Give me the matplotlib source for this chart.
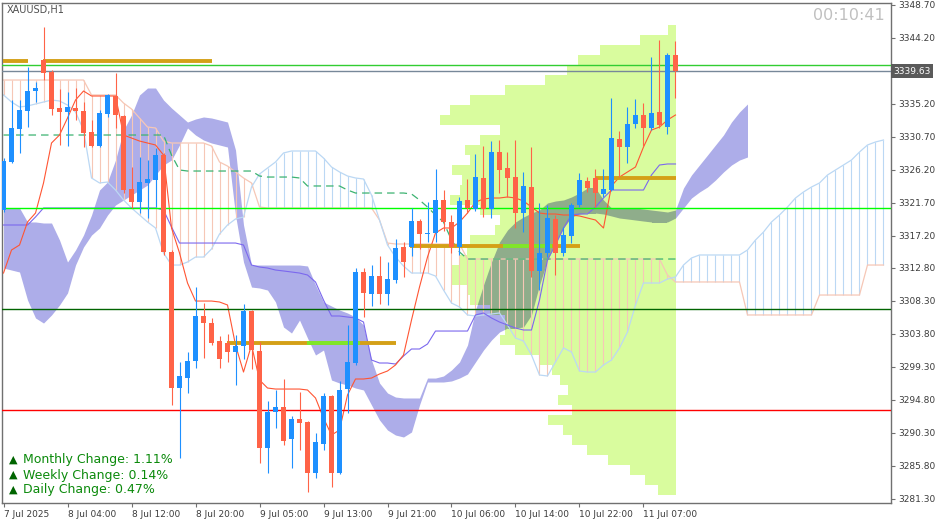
import matplotlib.pyplot as plt
import numpy as np
from matplotlib.path import Path
from matplotlib.patches import PathPatch
import matplotlib.transforms as mtransforms

# ---- candles (XAUUSD H1) ----
bar_open = [3320.70, 3327.25, 3331.75, 3334.20, 3336.93, 3341.16, 3339.52, 3334.61, 3334.07, 3334.61,
            3334.20, 3331.34, 3329.43, 3333.79, 3336.25, 3333.52, 3323.57, 3321.80, 3324.39, 3324.79,
            3328.20, 3314.98, 3296.43, 3297.80, 3300.12, 3306.25, 3305.30, 3302.84, 3302.57, 3301.34,
            3302.16, 3306.93, 3301.48, 3288.25, 3293.16, 3293.84, 3289.48, 3292.21, 3291.80, 3284.84,
            3288.80, 3295.34, 3284.84, 3296.30, 3299.84, 3312.25, 3309.25, 3311.70, 3309.25, 3311.16,
            3315.66, 3315.66, 3319.20, 3317.43, 3317.57, 3322.07, 3319.07, 3315.66, 3322.07, 3320.84,
            3325.07, 3320.84, 3328.61, 3326.43, 3325.20, 3320.30, 3323.84, 3312.39, 3314.84, 3319.48,
            3314.84, 3317.16, 3321.39, 3324.66, 3325.07, 3322.89, 3323.43, 3330.39, 3329.30, 3332.43,
            3333.66, 3331.89, 3334.07, 3332.02, 3341.84]
bar_high = [3327.80, 3335.70, 3335.70, 3340.20, 3338.16, 3345.66, 3339.79, 3337.20, 3336.79, 3337.34,
            3335.43, 3332.98, 3334.34, 3336.50, 3339.39, 3333.66, 3326.57, 3327.93, 3327.52, 3329.16,
            3328.48, 3315.25, 3299.98, 3301.34, 3310.20, 3308.02, 3305.98, 3303.52, 3303.80, 3303.66,
            3307.89, 3307.07, 3302.70, 3294.66, 3296.16, 3297.66, 3292.61, 3295.89, 3291.93, 3290.30,
            3295.75, 3295.48, 3297.39, 3305.02, 3312.80, 3312.80, 3313.20, 3314.43, 3313.61, 3316.75,
            3316.34, 3320.98, 3319.48, 3321.80, 3326.30, 3323.43, 3320.02, 3322.48, 3324.93, 3328.34,
            3329.43, 3330.11, 3330.25, 3328.61, 3330.25, 3325.89, 3329.30, 3321.66, 3321.39, 3320.02,
            3318.39, 3321.66, 3325.75, 3325.20, 3326.30, 3326.30, 3335.98, 3331.48, 3334.75, 3335.84,
            3335.30, 3341.57, 3343.89, 3342.11, 3343.75]
bar_low = [3320.43, 3327.11, 3328.48, 3332.02, 3335.43, 3338.43, 3333.66, 3329.57, 3329.43, 3332.98,
           3329.30, 3329.30, 3329.30, 3333.39, 3331.89, 3323.02, 3320.98, 3320.30, 3319.61, 3321.11,
           3314.57, 3294.11, 3286.89, 3295.75, 3299.16, 3300.52, 3302.30, 3299.16, 3299.98, 3296.84,
           3300.39, 3299.02, 3286.21, 3284.84, 3290.98, 3288.66, 3285.52, 3287.98, 3282.25, 3284.16,
           3287.98, 3282.93, 3284.70, 3293.02, 3299.57, 3306.11, 3307.61, 3307.89, 3307.75, 3310.75,
           3311.57, 3314.43, 3315.39, 3316.34, 3316.34, 3317.84, 3314.84, 3314.57, 3320.30, 3320.57,
           3319.75, 3319.61, 3323.02, 3322.48, 3318.25, 3317.70, 3311.57, 3309.80, 3314.30, 3311.84,
           3314.43, 3316.20, 3321.11, 3323.16, 3321.11, 3322.48, 3323.30, 3325.20, 3327.11, 3331.89,
           3329.43, 3331.61, 3331.89, 3331.07, 3335.98]
bar_close = [3327.39, 3331.89, 3334.34, 3336.93, 3337.34, 3339.39, 3334.48, 3334.07, 3334.75, 3334.20,
             3331.20, 3329.43, 3333.93, 3336.39, 3333.66, 3323.43, 3321.80, 3324.52, 3324.93, 3328.20,
             3314.98, 3296.43, 3298.07, 3300.12, 3306.25, 3305.30, 3302.57, 3300.39, 3301.34, 3302.16,
             3306.93, 3301.61, 3288.25, 3293.16, 3293.84, 3289.21, 3292.21, 3291.66, 3284.84, 3289.07,
             3295.34, 3284.84, 3296.16, 3299.98, 3312.25, 3309.39, 3311.70, 3309.25, 3311.30, 3315.52,
             3313.61, 3319.20, 3317.43, 3317.57, 3322.07, 3319.07, 3315.66, 3321.93, 3320.98, 3325.20,
             3320.84, 3328.61, 3326.16, 3325.07, 3320.30, 3323.98, 3312.39, 3314.84, 3319.61, 3314.84,
             3317.30, 3321.39, 3324.79, 3323.70, 3323.02, 3323.57, 3330.52, 3329.30, 3332.43, 3333.66,
             3331.89, 3333.93, 3332.30, 3341.84, 3339.63]

# ---- ichimoku lines ----
tenkan = [3312.11, 3315.25, 3315.93, 3319.07, 3320.29, 3324.39, 3329.84, 3330.93, 3333.25, 3335.70,
          3336.93, 3336.25, 3336.25, 3336.25, 3336.25, 3330.93, 3330.52, 3330.11, 3329.84, 3329.57,
          3328.20, 3318.25, 3314.84, 3310.75, 3308.29, 3308.29, 3308.29, 3308.16, 3307.75, 3302.29,
          3298.61, 3302.29, 3297.52, 3296.43, 3296.29, 3296.29, 3296.29, 3296.29, 3296.16, 3295.07,
          3292.34, 3290.02, 3290.70, 3295.48, 3297.66, 3297.66, 3297.79, 3298.34, 3298.75, 3299.57,
          3300.93, 3305.70, 3310.20, 3314.29, 3317.57, 3318.25, 3318.25, 3319.07, 3320.29, 3321.79,
          3322.20, 3322.34, 3322.34, 3322.48, 3322.34, 3321.93, 3321.11, 3320.29, 3320.16, 3320.16,
          3320.02, 3320.02, 3319.89, 3319.61, 3319.34, 3318.25, 3323.98, 3325.20, 3325.89, 3326.57,
          3329.29, 3331.61, 3332.02, 3332.98, 3333.66]
kijun = [3318.66, 3318.66, 3318.66, 3318.66, 3319.75, 3320.98, 3320.98, 3320.98, 3320.98, 3320.98,
         3320.98, 3320.98, 3320.98, 3320.98, 3320.98, 3320.98, 3320.98, 3320.98, 3320.98, 3320.98,
         3320.70, 3318.39, 3316.20, 3316.20, 3316.20, 3316.20, 3316.20, 3316.20, 3316.20, 3316.20,
         3315.93, 3313.20, 3312.93, 3312.79, 3312.52, 3312.39, 3312.25, 3312.11, 3311.84, 3310.89,
         3308.43, 3306.25, 3306.25, 3306.11, 3305.98, 3305.43, 3300.25, 3299.84, 3299.84, 3299.70,
         3300.79, 3301.75, 3301.75, 3302.43, 3304.20, 3304.20, 3304.20, 3304.20, 3304.20, 3306.39,
         3306.66, 3305.98, 3305.43, 3305.02, 3304.61, 3304.34, 3304.34, 3308.43, 3313.89, 3315.93,
         3318.25, 3320.02, 3320.16, 3320.16, 3321.11, 3322.34, 3323.43, 3323.43, 3323.43, 3323.43,
         3323.43, 3325.48, 3326.84, 3326.98, 3326.98]
span_a = [3338.43, 3338.43, 3338.43, 3338.43, 3338.43, 3338.43, 3338.43, 3338.43, 3338.43, 3338.43,
          3338.43, 3336.39, 3336.39, 3336.39, 3336.39, 3335.29, 3334.48, 3333.25, 3332.02, 3331.89,
          3330.11, 3329.84, 3329.84, 3329.84, 3329.84, 3329.84, 3329.43, 3327.25, 3326.70, 3325.89,
          3325.07, 3324.39, 3321.11, 3320.98, 3320.98, 3320.98, 3320.98, 3320.98, 3320.98, 3320.98,
          3320.98, 3320.98, 3320.98, 3320.98, 3320.98, 3320.98, 3320.98, 3319.34, 3316.20, 3316.07,
          3316.07, 3316.07, 3316.07, 3316.07, 3316.07, 3316.07, 3316.07, 3316.07, 3314.02, 3314.02,
          3314.02, 3314.02, 3314.02, 3314.02, 3314.02, 3314.02, 3314.02, 3314.02, 3314.02, 3314.02,
          3314.02, 3314.02, 3314.02, 3314.02, 3314.02, 3314.02, 3314.02, 3314.02, 3314.02, 3314.02,
          3314.02, 3314.02, 3314.02, 3311.84, 3310.89, 3310.89, 3310.89, 3310.89, 3310.89, 3310.89,
          3310.89, 3310.89, 3310.89, 3306.39, 3306.39, 3306.39, 3306.39, 3306.39, 3306.39, 3306.39,
          3306.39, 3306.39, 3309.11, 3309.11, 3309.11, 3309.11, 3309.11, 3309.11, 3313.20, 3313.20,
          3313.20]
span_b = [3336.39, 3335.43, 3334.75, 3334.89, 3335.16, 3335.43, 3335.70, 3335.57, 3335.02, 3334.07,
          3331.61, 3325.07, 3324.39, 3324.52, 3323.43, 3322.07, 3320.98, 3320.02, 3319.07, 3318.25,
          3314.84, 3313.20, 3313.20, 3313.61, 3314.29, 3314.29, 3315.39, 3317.43, 3318.66, 3319.48,
          3319.75, 3323.84, 3325.61, 3326.43, 3327.25, 3328.48, 3328.75, 3328.75, 3328.75, 3328.75,
          3327.79, 3326.57, 3325.89, 3325.34, 3325.07, 3324.93, 3322.75, 3319.34, 3315.93, 3314.29,
          3313.07, 3312.11, 3312.11, 3312.11, 3311.70, 3309.79, 3308.02, 3307.48, 3306.39, 3306.25,
          3306.39, 3306.52, 3306.66, 3305.02, 3303.25, 3302.84, 3300.93, 3298.20, 3298.07, 3299.98,
          3301.89, 3301.34, 3298.75, 3298.61, 3298.61, 3299.57, 3300.25, 3301.89, 3304.07, 3307.75,
          3310.75, 3310.75, 3310.75, 3311.29, 3311.57, 3313.20, 3314.16, 3314.57, 3314.57, 3314.57,
          3314.57, 3314.57, 3314.57, 3315.25, 3316.61, 3317.70, 3319.07, 3320.02, 3321.11, 3322.34,
          3323.16, 3323.84, 3324.39, 3325.48, 3326.16, 3326.84, 3327.52, 3328.61, 3329.57, 3329.98,
          3330.25]

# ---- second cloud (solid band, drawn 9 bars ahead) ----
band_top = [3320.98, 3320.98, 3320.98, 3319.07, 3319.07, 3318.93, 3318.93, 3316.61, 3313.61, 3315.25,
            3317.29, 3320.02, 3323.43, 3324.52, 3327.52, 3331.61, 3333.66, 3336.39, 3337.34, 3337.34,
            3335.70, 3334.61, 3333.66, 3332.70, 3333.11, 3333.39, 3333.25, 3332.98, 3332.70, 3328.89,
            3318.66, 3313.20, 3313.20, 3313.20, 3313.20, 3313.20, 3313.20, 3313.20, 3313.07, 3310.48,
            3308.16, 3307.61, 3307.07, 3306.66, 3306.11, 3305.02, 3300.25, 3297.11, 3295.75, 3295.20,
            3295.07, 3295.07, 3295.07, 3297.79, 3297.79, 3298.07, 3298.89, 3299.98, 3302.29, 3307.07,
            3310.48, 3313.61, 3316.34, 3317.98, 3319.07, 3319.75, 3320.29, 3320.70, 3321.66, 3321.93,
            3322.07, 3322.48, 3323.02, 3323.70, 3323.70, 3322.07, 3320.98, 3320.98, 3320.98, 3320.98,
            3320.84, 3320.70, 3320.57, 3320.43, 3320.70, 3323.70, 3325.48, 3326.84, 3328.20, 3329.57,
            3330.93, 3332.70, 3334.07, 3335.16]
band_bot = [3312.79, 3312.52, 3312.25, 3308.43, 3305.98, 3305.29, 3306.39, 3307.75, 3309.39, 3313.20,
            3315.66, 3317.29, 3318.25, 3320.02, 3321.39, 3322.07, 3322.75, 3323.43, 3324.11, 3325.48,
            3326.84, 3327.52, 3329.57, 3331.89, 3330.93, 3330.25, 3329.84, 3329.57, 3329.29, 3320.02,
            3313.61, 3310.20, 3310.07, 3309.79, 3308.16, 3304.75, 3303.93, 3305.70, 3303.25, 3300.93,
            3301.61, 3297.52, 3297.11, 3296.84, 3296.43, 3296.16, 3294.11, 3292.07, 3290.70, 3290.02,
            3289.75, 3290.43, 3294.11, 3297.25, 3297.25, 3297.25, 3297.39, 3297.79, 3298.34, 3299.98,
            3301.61, 3302.98, 3304.07, 3304.61, 3304.61, 3304.75, 3306.39, 3310.48, 3313.89, 3316.20,
            3318.25, 3319.75, 3320.16, 3320.29, 3320.29, 3320.16, 3319.89, 3319.61, 3319.48, 3319.34,
            3319.20, 3319.07, 3319.07, 3319.07, 3319.61, 3320.98, 3322.34, 3323.16, 3323.84, 3324.79,
            3325.89, 3326.84, 3327.52, 3327.93]

# ---- dashed step line ----
step_line = [3330.93, 3330.93, 3330.93, 3330.93, 3330.93, 3330.93, 3330.93, 3330.93, 3330.93, 3330.93,
             3330.93, 3330.93, 3330.93, 3330.93, 3330.93, 3330.93, 3330.93, 3330.93, 3330.93, 3330.93,
             3330.93, 3328.20, 3326.16, 3326.02, 3326.02, 3326.02, 3326.02, 3326.02, 3326.02, 3326.02,
             3326.02, 3326.02, 3325.34, 3325.20, 3325.20, 3325.20, 3325.20, 3325.07, 3323.98, 3323.98,
             3323.98, 3323.98, 3323.98, 3323.43, 3323.02, 3323.02, 3323.02, 3323.02, 3323.02, 3323.02,
             3323.02, 3322.89, 3322.07, 3321.11, 3320.02, 3319.07, 3316.61, 3314.98, 3314.02, 3314.02,
             3314.02, 3314.02, 3314.02, 3314.02, 3314.02, 3314.02, 3314.02, 3314.02, 3314.02, 3314.02,
             3314.02, 3314.02, 3314.02, 3314.02, 3314.02, 3314.02, 3314.02, 3314.02, 3314.02, 3314.02,
             3314.02, 3314.02, 3314.02, 3314.02, 3314.02]

# ---- volume profile (price level, relative volume in bar widths) ----
vp_price = [3345.25, 3343.89, 3342.52, 3341.16, 3339.80, 3338.43, 3337.07, 3335.70, 3334.34, 3332.98,
            3331.61, 3330.25, 3328.89, 3327.52, 3326.16, 3324.80, 3323.43, 3322.07, 3320.70, 3319.34,
            3317.98, 3316.61, 3315.25, 3313.89, 3312.52, 3311.16, 3309.80, 3308.43, 3307.07, 3305.70,
            3304.34, 3302.98, 3301.61, 3300.25, 3298.89, 3297.52, 3296.16, 3294.80, 3293.43, 3292.07,
            3290.70, 3289.34, 3287.98, 3286.61, 3285.25, 3283.89, 3282.52]
vp_volume = [1.0, 4.5, 9.5, 12.2, 13.6, 16.4, 21.4, 25.8, 28.2, 29.5,
             22.0, 24.5, 26.4, 25.8, 28.0, 26.8, 27.0, 28.2, 24.5, 22.0,
             22.6, 25.8, 26.1, 27.0, 28.0, 28.0, 26.1, 25.8, 23.2, 21.4,
             21.4, 22.0, 20.1, 17.0, 15.5, 14.5, 13.5, 14.8, 13.0, 16.0,
             14.1, 13.0, 11.1, 8.5, 5.8, 3.9, 2.2]

# ---- horizontal levels ----
levels = [3340.54, 3320.94, 3307.20, 3293.43]
level_colors = ['#32CD32', '#00FF00', '#006400', '#FF0000']
last_price = 3339.63

# gold zones: price, first bar, last bar
zone_price = [3341.00, 3341.00, 3302.60, 3315.80, 3325.07]
zone_start = [-0.06, 4.9, 27.9, 50.8, 73.9]
zone_end = [3.06, 26.1, 49.1, 72.1, 84.06]
# touched part of a zone (drawn in green)
touch_price = [3302.60, 3315.80]
touch_start = [37.9, 62.4]
touch_end = [44.6, 68.6]

xtick_bars = [0, 8, 16, 24, 32, 40, 48, 56, 64, 72, 80]
xtick_labels = ['7 Jul 2025', '8 Jul 04:00', '8 Jul 12:00', '8 Jul 20:00', '9 Jul 05:00',
                '9 Jul 13:00', '9 Jul 21:00', '10 Jul 06:00', '10 Jul 14:00', '10 Jul 22:00',
                '11 Jul 07:00']
ytick_vals = [3348.70, 3344.20, 3335.20, 3330.70, 3326.20, 3321.70, 3317.20, 3312.80,
              3308.30, 3303.80, 3299.30, 3294.80, 3290.30, 3285.80, 3281.30]

changes = [('Monthly Change', 1.11), ('Weekly Change', 0.14), ('Daily Change', 0.47)]

BULL = '#1E90FF'
BEAR = '#FF6347'
BAND = '#ADADE9'
PROFILE = '#D9FC9E'
OVERLAP = '#8FAD8B'
PEACH = '#F6C7B6'
LBLUE = '#BBD8F4'

fig = plt.figure(figsize=(9.37, 5.24), dpi=100)
ax = fig.add_axes([2 / 937, 21 / 524, 889 / 937, 500.5 / 524])
ax.set_xlim(-0.19, 110.94)
ax.set_ylim(3280.75, 3349.0)

# solid band (under everything)
band_x = np.arange(len(band_top))
ax.fill_between(band_x, band_top, band_bot, color=BAND, lw=0, zorder=1)

# volume profile, right edge at the last bar
prof_right = len(bar_open) - 1 + 0.06
vp_p = np.array(vp_price)
vp_v = np.array(vp_volume)
ax.barh(vp_p, vp_v, left=prof_right - vp_v, height=1.3636, color=PROFILE, lw=0, zorder=1.5)

# darker where band and profile overlap
verts, codes = [], []
for p, v in zip(vp_p, vp_v):
    x0, x1 = prof_right - v, prof_right
    y0, y1 = p - 0.6818, p + 0.6818
    verts += [(x0, y0), (x1, y0), (x1, y1), (x0, y1), (x0, y0)]
    codes += [Path.MOVETO, Path.LINETO, Path.LINETO, Path.LINETO, Path.CLOSEPOLY]
clip = PathPatch(Path(verts, codes), transform=ax.transData, facecolor='none', edgecolor='none')
ax.add_patch(clip)
ov = ax.fill_between(band_x, band_top, band_bot, color=OVERLAP, lw=0, zorder=1.6)
ov.set_clip_path(clip)

# hatched kumo
sa = np.array(span_a)
sb = np.array(span_b)
span_x = np.arange(len(sa))
hcol = np.where(sa >= sb, PEACH, LBLUE)
ax.vlines(span_x, np.minimum(sa, sb), np.maximum(sa, sb), colors=hcol, lw=0.8, zorder=2)
ax.plot(span_x, sa, color=PEACH, lw=0.9, zorder=2.1)
ax.plot(span_x, sb, color=LBLUE, lw=0.9, zorder=2.1)

idx = np.arange(len(bar_open))
ax.plot(idx, step_line, color='#3CB371', lw=0.9, ls=(0, (6, 4)), zorder=3)
ax.plot(idx, kijun, color='#7B68EE', lw=0.8, zorder=3.2)
ax.plot(idx, tenkan, color='#FF5533', lw=0.8, zorder=3.3)

for lv, lc in zip(levels, level_colors):
    ax.axhline(lv, color=lc, lw=1.0, zorder=4)
ax.axhline(last_price, color='#778899', lw=1.0, zorder=4)

ax.hlines(zone_price, zone_start, zone_end, color='#D4A017', lw=2.8, zorder=4.5)
ax.hlines(touch_price, touch_start, touch_end, color='#7FE62A', lw=2.8, zorder=4.6)

# candles
o = np.array(bar_open)
c = np.array(bar_close)
up = c >= o
cols = np.where(up, BULL, BEAR)
ax.vlines(idx, bar_low, bar_high, colors=cols, lw=0.8, zorder=5)
body_lo = np.minimum(o, c)
body_h = np.maximum(np.abs(c - o), 0.15)
ax.bar(idx, body_h, bottom=body_lo, width=0.62, color=cols, lw=0, zorder=6)

# axes styling
for s in ax.spines.values():
    s.set_color('#707070')
    s.set_linewidth(1.0)
ax.yaxis.tick_right()
ax.set_yticks(ytick_vals)
ax.set_yticklabels(['%.2f' % v for v in ytick_vals])
ax.set_xticks(xtick_bars)
ax.set_xticklabels(xtick_labels)
ax.tick_params(axis='both', colors='#707070', labelcolor='#3C3C3C', labelsize=6.5,
               length=3, width=0.8, pad=2)
for lbl in ax.get_xticklabels():
    lbl.set_horizontalalignment('left')

trans = mtransforms.blended_transform_factory(ax.transAxes, ax.transData)
ax.text(1.003, last_price, '%.2f' % last_price, transform=trans, ha='left', va='center',
        fontsize=6.5, color='white', zorder=10,
        bbox=dict(boxstyle='square,pad=0.25', facecolor='#5A5A5A', edgecolor='none'))

fig.text(7 / 937, 1 - 10 / 524, 'XAUUSD,H1', fontsize=7, color='#505050', va='center')
fig.text(885 / 937, 1 - 15 / 524, '00:10:41', fontsize=11.5, color='#C0C0C0', ha='right', va='center')

for k, (name, val) in enumerate(changes):
    yy = 1 - (460 + 15 * k) / 524
    fig.text(9 / 937, yy, '\u25B2', fontsize=8, color='#006400', va='center')
    fig.text(23 / 937, yy, '%s: %.2f%%' % (name, val), fontsize=9, color='#0B8A0B', va='center')

fig.savefig('out.png', dpi=100)
